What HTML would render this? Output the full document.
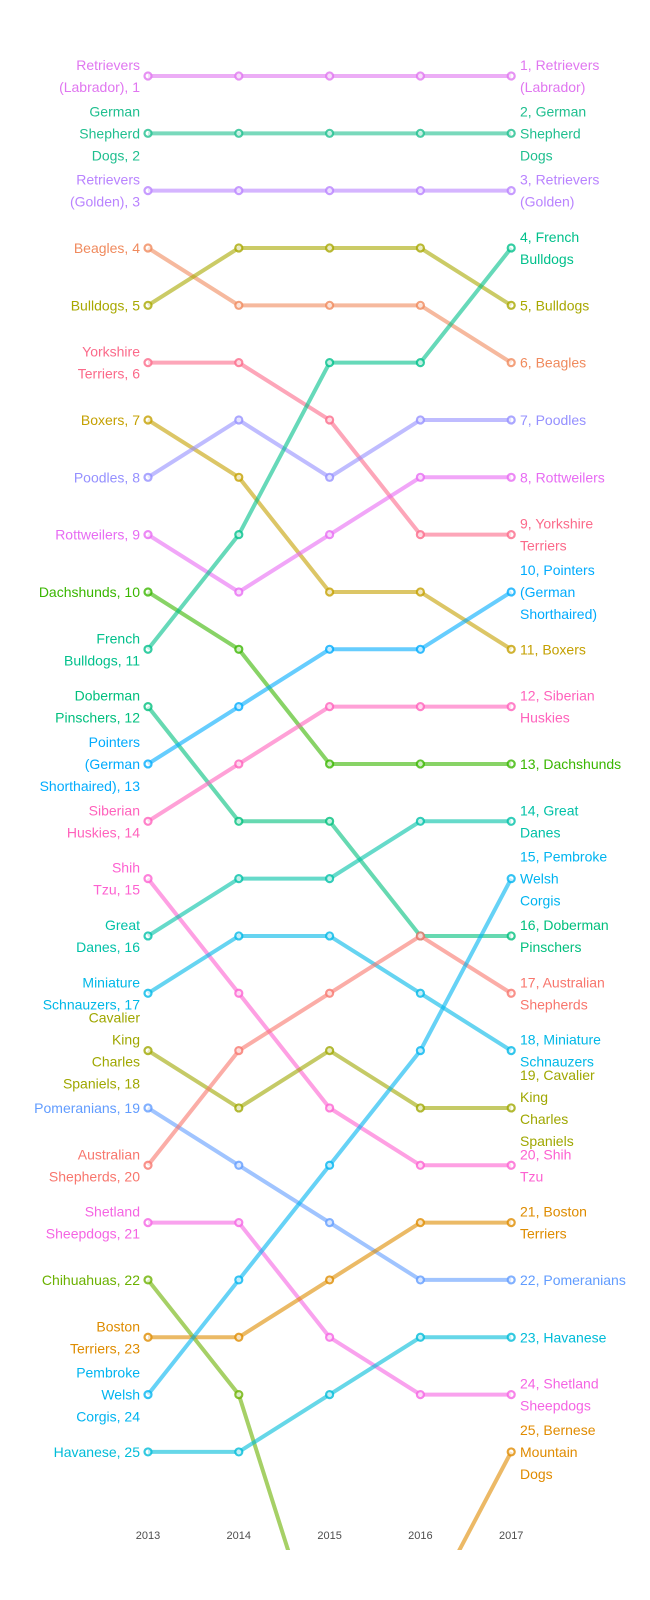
<!DOCTYPE html>
<html><head><meta charset="utf-8"><style>
html,body{margin:0;padding:0;background:#fff;overflow:hidden;width:650px;height:1600px;}
svg{display:block;font-family:"Liberation Sans",sans-serif;}
</style></head><body>
<svg id="chart" width="650" height="1600" viewBox="0 0 650 1600">
<defs><clipPath id="plotclip"><rect x="0" y="0" width="650" height="1550"/></clipPath></defs>
<g id="lines" clip-path="url(#plotclip)"></g>
<g id="labels"></g>
<g id="xaxis"></g>
</svg>
<script>
const years = [2013, 2014, 2015, 2016, 2017];
const breeds = ["Retrievers (Labrador)","German Shepherd Dogs","Retrievers (Golden)","Beagles","Bulldogs","Yorkshire Terriers","Boxers","Poodles","Rottweilers","Dachshunds","French Bulldogs","Doberman Pinschers","Pointers (German Shorthaired)","Siberian Huskies","Shih Tzu","Great Danes","Miniature Schnauzers","Cavalier King Charles Spaniels","Pomeranians","Australian Shepherds","Shetland Sheepdogs","Chihuahuas","Boston Terriers","Pembroke Welsh Corgis","Havanese","Bernese Mountain Dogs"];
const ranks = [
[1,1,1,1,1],[2,2,2,2,2],[3,3,3,3,3],[4,5,5,5,6],[5,4,4,4,5],[6,6,7,9,9],[7,8,10,10,11],[8,7,8,7,7],[9,10,9,8,8],[10,11,13,13,13],[11,9,6,6,4],[12,14,14,16,16],[13,12,11,11,10],[14,13,12,12,12],[15,17,19,20,20],[16,15,15,14,14],[17,16,16,17,18],[18,19,18,19,19],[19,20,21,22,22],[20,18,17,16,17],[21,21,23,24,24],[22,24,29,30,30],[23,23,22,21,21],[24,22,20,18,15],[25,25,24,23,23],[31,30,29,28,25]];
const colors = ["#e076f0","#1fbf8f","#b983ff","#f08a5d","#a8a800","#fb6a8a","#c4a000","#9590ff","#e76bf3","#39b600","#00c08b","#00bf7d","#00abfd","#ff62bc","#fd61d1","#00c1a7","#00b8e7","#9fa700","#619cff","#f8766d","#f564e3","#6bb100","#de8c00","#00b4f0","#00bcd8","#e08b00"];
const leftLabels = [["Retrievers","(Labrador), 1"],["German","Shepherd","Dogs, 2"],["Retrievers","(Golden), 3"],["Beagles, 4"],["Bulldogs, 5"],["Yorkshire","Terriers, 6"],["Boxers, 7"],["Poodles, 8"],["Rottweilers, 9"],["Dachshunds, 10"],["French","Bulldogs, 11"],["Doberman","Pinschers, 12"],["Pointers","(German","Shorthaired), 13"],["Siberian","Huskies, 14"],["Shih","Tzu, 15"],["Great","Danes, 16"],["Miniature","Schnauzers, 17"],["Cavalier","King","Charles","Spaniels, 18"],["Pomeranians, 19"],["Australian","Shepherds, 20"],["Shetland","Sheepdogs, 21"],["Chihuahuas, 22"],["Boston","Terriers, 23"],["Pembroke","Welsh","Corgis, 24"],["Havanese, 25"],null];
const rightLabels = [["1, Retrievers","(Labrador)"],["2, German","Shepherd","Dogs"],["3, Retrievers","(Golden)"],["6, Beagles"],["5, Bulldogs"],["9, Yorkshire","Terriers"],["11, Boxers"],["7, Poodles"],["8, Rottweilers"],["13, Dachshunds"],["4, French","Bulldogs"],["16, Doberman","Pinschers"],["10, Pointers","(German","Shorthaired)"],["12, Siberian","Huskies"],["20, Shih","Tzu"],["14, Great","Danes"],["18, Miniature","Schnauzers"],["19, Cavalier","King","Charles","Spaniels"],["22, Pomeranians"],["17, Australian","Shepherds"],["24, Shetland","Sheepdogs"],null,["21, Boston","Terriers"],["15, Pembroke","Welsh","Corgis"],["23, Havanese"],["25, Bernese","Mountain","Dogs"]];
const NS="http://www.w3.org/2000/svg";
function xScale(i){return 148 + i*90.8;}
function yScale(r){return 76 + (r-1)*57.33;}
function slug(s){return s.toLowerCase().replace(/[^a-z0-9]+/g,'-').replace(/^-|-$/g,'');}
const gl=document.getElementById('lines'), glab=document.getElementById('labels'), gx=document.getElementById('xaxis');
breeds.forEach((b,k)=>{
  const g=document.createElementNS(NS,'g');
  
  
  const pl=document.createElementNS(NS,'polyline');
  pl.setAttribute('points',ranks[k].map((r,i)=>xScale(i)+','+yScale(r)).join(' '));
  pl.setAttribute('fill','none');pl.setAttribute('stroke',colors[k]);
  pl.setAttribute('stroke-width','4');pl.setAttribute('stroke-opacity','0.6');
  
  
  g.appendChild(pl);
  ranks[k].forEach((r,i)=>{
    const c=document.createElementNS(NS,'circle');
    c.setAttribute('cx',xScale(i));c.setAttribute('cy',yScale(r));c.setAttribute('r','3.5');
    c.setAttribute('fill','#fff');c.setAttribute('fill-opacity','0.6');c.setAttribute('stroke',colors[k]);c.setAttribute('stroke-width','2.2');c.setAttribute('stroke-opacity','0.8');
    
    
    g.appendChild(c);
  });
  gl.appendChild(g);
  function addLabel(lines,x,anchor,r,side){
    if(!lines)return;
    const t=document.createElementNS(NS,'text');
    
    
    t.setAttribute('text-anchor',anchor);t.setAttribute('fill',colors[k]);t.setAttribute('font-size','14');
    const y0=yScale(r)-(lines.length-1)*11+5;
    lines.forEach((ln,j)=>{const ts=document.createElementNS(NS,'tspan');ts.setAttribute('x',x);ts.setAttribute('y',y0+j*22);ts.textContent=ln;t.appendChild(ts);});
    glab.appendChild(t);
  }
  addLabel(leftLabels[k],140,'end',ranks[k][0],'left');
  addLabel(rightLabels[k],520,'start',ranks[k][4],'right');
});
years.forEach((yr,i)=>{
  const t=document.createElementNS(NS,'text');
  
  
  t.setAttribute('x',xScale(i));t.setAttribute('y',1539);t.setAttribute('text-anchor','middle');
  t.setAttribute('font-size','11');t.setAttribute('fill','#4d4d4d');t.textContent=yr;
  gx.appendChild(t);
});
</script>
</body></html>
